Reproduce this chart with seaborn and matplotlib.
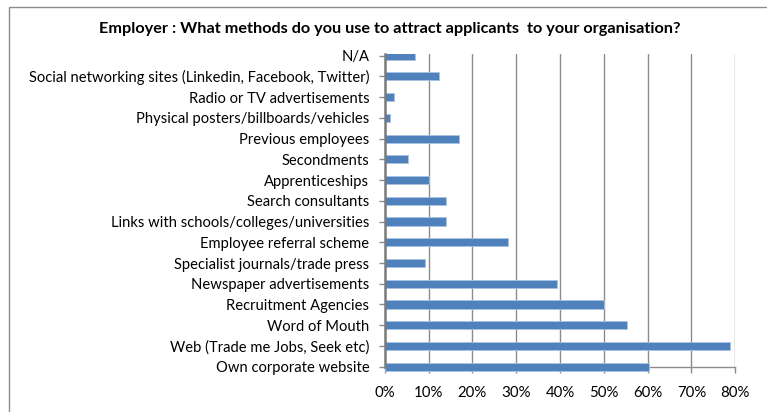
import matplotlib
matplotlib.use("Agg")
import matplotlib.pyplot as plt
from matplotlib.patches import Rectangle
from matplotlib.ticker import FuncFormatter
import seaborn as sns
import pandas as pd

# Recruitment methods used by employers (share of respondents, %)
methods = [
    "N/A",
    "Social networking sites (Linkedin, Facebook, Twitter)",
    "Radio or TV advertisements",
    "Physical posters/billboards/vehicles",
    "Previous employees",
    "Secondments",
    "Apprenticeships",
    "Search consultants",
    "Links with schools/colleges/universities",
    "Employee referral scheme",
    "Specialist journals/trade press",
    "Newspaper advertisements",
    "Recruitment Agencies",
    "Word of Mouth",
    "Web (Trade me Jobs, Seek etc)",
    "Own corporate website",
]
share = [6.8, 12.3, 2.2, 1.1, 16.9, 5.3, 10.0, 13.9, 13.9, 28.1, 9.3,
         39.3, 50.0, 55.2, 78.9, 60.2]
x_ticks = [0, 10, 20, 30, 40, 50, 60, 70, 80]
title = "Employer : What methods do you use to attract applicants  to your organisation?"

df = pd.DataFrame({"method": methods, "share": share})

sns.set_theme(style="white")
plt.rcParams["font.family"] = ["Lato", "DejaVu Sans"]

W, H = 767, 412
fig = plt.figure(figsize=(W / 100, H / 100), dpi=100)
fig.patch.set_facecolor("white")
ax = fig.add_axes([384.7 / W, 1 - 366.7 / H, (735.3 - 384.7) / W, (366.7 - 54.3) / H])

sns.barplot(data=df, x="share", y="method", orient="h", order=methods,
            color="#4F81BD", width=0.39, saturation=1, ax=ax,
            edgecolor="#A9C3E3", linewidth=0.6, zorder=3)

# The last bar sits on the category axis and is drawn over it
ax.patches[-1].set_clip_on(False)

ax.set_xlim(0, 80)
ax.set_ylim(len(methods) - 1 + 0.0, -0.063)
ax.set_xticks(x_ticks)
ax.xaxis.set_major_formatter(FuncFormatter(lambda v, p: f"{v:.0f}%"))
ax.set_xlabel("")
ax.set_ylabel("")

for v in x_ticks[1:]:
    ax.axvline(v, color="#8C8C8C", lw=1.0, zorder=1)

for side in ["top", "right"]:
    ax.spines[side].set_visible(False)
ax.spines["left"].set_color("#7A7A7A")
ax.spines["left"].set_linewidth(1.8)
ax.spines["left"].set_zorder(4)
ax.spines["bottom"].set_color("#8C8C8C")
ax.spines["bottom"].set_linewidth(1.0)

ax.tick_params(axis="y", which="major", left=True, length=4, width=1,
               color="#8C8C8C", pad=7, labelsize=10.6, labelcolor="black")
ax.tick_params(axis="x", which="major", bottom=True, length=4, width=1,
               color="#8C8C8C", pad=10, labelsize=10.8, labelcolor="black")

fig.text(390 / W, 1 - 29 / H, title, ha="center", va="center",
         fontsize=11.7, fontweight="bold", color="black")

# Chart frame
fig.patches.append(Rectangle((9 / W, -0.1), 1.2, 1 - 6.5 / H + 0.1,
                             transform=fig.transFigure, fill=False,
                             edgecolor="#8C8C8C", lw=1.0))

fig.savefig("out.png", dpi=100, facecolor="white")
